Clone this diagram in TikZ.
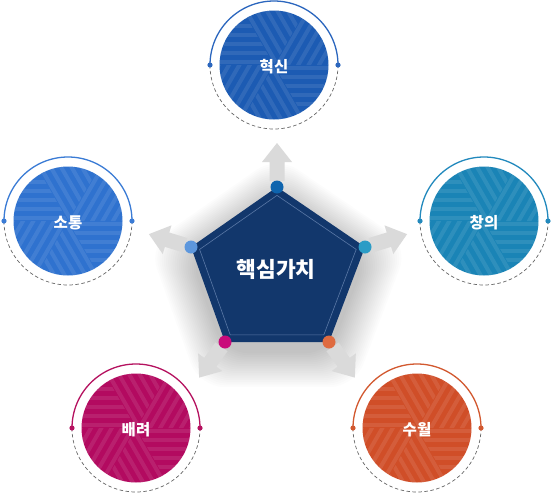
\documentclass[tikz,border=0pt]{standalone}
\usepackage{fontspec}
\newfontfamily\kr{Noto Sans CJK KR}
\definecolor{cA}{HTML}{1C5BB3}\definecolor{aA}{HTML}{2B66BE}
\definecolor{cB}{HTML}{2F72CF}\definecolor{aB}{HTML}{3A7BD5}
\definecolor{cC}{HTML}{1A84B6}\definecolor{aC}{HTML}{2289BD}
\definecolor{cD}{HTML}{B30A60}\definecolor{aD}{HTML}{B5115F}
\definecolor{cE}{HTML}{D04E28}\definecolor{aE}{HTML}{D2582F}
\definecolor{penta}{HTML}{12376C}\definecolor{pline}{HTML}{5A78A6}
\definecolor{dT}{HTML}{0E64AE}\definecolor{dL}{HTML}{5D97DD}
\definecolor{dR}{HTML}{2B9CC6}\definecolor{dBL}{HTML}{C90B7B}
\definecolor{dBR}{HTML}{DF6B40}\definecolor{arr}{HTML}{DADADA}
\newcommand{\pentapath}{(277,187)--(365,247)--(329,342)--(225,342)--(191,247)--cycle}
\newcommand{\wsector}[2]{%
  \begin{scope}[shift={(#1.center)},rotate=#2]
    \clip (0,0)--(80,0)--(40,69.28)--cycle;
    \draw[white,opacity=0.09,line width=4pt]
      (-10,3)--(90,3) (-10,12)--(90,12) (-10,21)--(90,21) (-10,30)--(90,30)
      (-10,39)--(90,39) (-10,48)--(90,48) (-10,57)--(90,57) (-10,66)--(90,66)
      (-10,75)--(90,75);
  \end{scope}}
\newcommand{\valcircle}[6]{%
  \node[valnode,fill=#4] (#1) at (#2,#3) {};
  \begin{scope}
    \clip (#1.center) circle[radius=54.5pt];
    \wsector{#1}{0}\wsector{#1}{60}\wsector{#1}{120}%
    \wsector{#1}{180}\wsector{#1}{240}\wsector{#1}{300}
  \end{scope}
  \node[vallabel] (#1t) at ([yshift=-1.5pt]#1.center) {#6};
  \draw[line width=1.3pt,draw=#5] (#1.center) ++(-64,0) arc[start angle=180,end angle=0,radius=64pt];
  \draw[draw=black!60,line width=0.7pt,dash pattern=on 3.5pt off 2.5pt] (#1.center) ++(-64,0) arc[start angle=180,end angle=360,radius=64pt];
  \fill[#5] (#1.center) ++(-64,0) circle[radius=2.6pt];
  \fill[#5] (#1.center) ++(64,0) circle[radius=2.6pt];}
\newcommand{\blockarr}[2]{%
  \begin{scope}[shift={(#1)},rotate=#2]
    \fill[arr] (6,-7.5)--(25,-7.5)--(25,-15)--(44,0)--(25,15)--(25,7.5)--(6,7.5)--cycle;
  \end{scope}}
\tikzset{
  valnode/.style={circle,minimum size=109pt,inner sep=0pt},
  vallabel/.style={text=white,inner sep=0pt,font=\kr\bfseries\fontsize{15.5}{18}\selectfont},
  vdot/.style={circle,minimum size=13pt,inner sep=0pt},
}
\begin{document}
\begin{tikzpicture}[x=1pt,y=-1pt]
\useasboundingbox[fill=white] (0,0) rectangle (552,493);
% pentagon vertices
\coordinate (pT) at (277,187);
\coordinate (pL) at (191,247);
\coordinate (pR) at (365,247);
\coordinate (pBL) at (225,342);
\coordinate (pBR) at (329,342);
% shadow
\foreach \s in {1.02,1.045,...,1.50}{
  \fill[black,opacity=0.011,rounded corners=25pt,shift={(0,10)},scale around={\s:(277,271)}] \pentapath;}
% arrows
\blockarr{pT}{90}
\blockarr{pL}{163}
\blockarr{pR}{17}
\blockarr{pBL}{234}
\blockarr{pBR}{306}
% pentagon
\fill[penta] \pentapath;
\draw[pline,line width=0.6pt,scale around={0.9:(277,271)}] \pentapath;
\node[text=white,inner sep=0pt,font=\kr\bfseries\fontsize{21.5}{25}\selectfont] (core) at (276,269) {핵심가치};
% vertex dots
\node[vdot,fill=dT] (vT) at (pT) {};
\node[vdot,fill=dL] (vL) at (pL) {};
\node[vdot,fill=dR] (vR) at (pR) {};
\node[vdot,fill=dBL] (vBL) at (pBL) {};
\node[vdot,fill=dBR] (vBR) at (pBR) {};
% value circles
\valcircle{c1}{274}{65}{cA}{aA}{혁신}
\valcircle{c2}{68}{221}{cB}{aB}{소통}
\valcircle{c3}{484}{221}{cC}{aC}{창의}
\valcircle{c4}{136}{428}{cD}{aD}{배려}
\valcircle{c5}{417}{428}{cE}{aE}{수월}
\end{tikzpicture}
\end{document}
